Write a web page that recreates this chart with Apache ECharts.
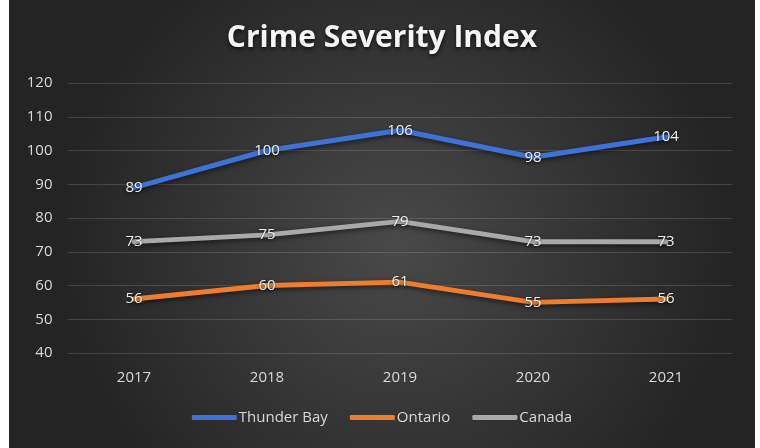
<!DOCTYPE html>
<html>
<head>
<meta charset="utf-8">
<script src="https://cdn.jsdelivr.net/npm/echarts@6/dist/echarts.min.js"></script>
<style>
  html, body { margin: 0; padding: 0; background: #ffffff; }
  #wrap { position: relative; width: 760px; height: 448px; overflow: hidden; }
  #chart { position: absolute; left: 9px; top: 0; width: 746px; height: 448px; }
</style>
</head>
<body>
<div id="wrap"><div id="chart"></div></div>
<script>
// Crime Severity Index by year
const years = ['2017', '2018', '2019', '2020', '2021'];
const thunderBay = [89, 100, 106, 98, 104];
const ontario = [56, 60, 61, 55, 56];
const canada = [73, 75, 79, 73, 73];
const yTicks = { min: 40, max: 120, step: 10 };

const labelColor = '#d9d9d9';
const fontFamily = '"Open Sans", Lato, sans-serif';

function lineSeries(name, data, color) {
  return {
    name: name,
    type: 'line',
    data: data,
    symbol: 'circle',
    symbolSize: 1,
    itemStyle: { color: color },
    lineStyle: {
      color: color,
      width: 5,
      cap: 'round',
      shadowColor: 'rgba(0,0,0,0.55)',
      shadowBlur: 5,
      shadowOffsetY: 2
    },
    label: {
      show: true,
      position: 'inside',
      color: '#eeeeee',
      fontSize: 15,
      fontFamily: fontFamily,
      textShadowColor: 'rgba(0,0,0,0.6)',
      textShadowBlur: 3,
      textShadowOffsetY: 1
    },
    emphasis: { disabled: true },
    animation: false
  };
}

const chart = echarts.init(document.getElementById('chart'), null, { renderer: 'canvas' });
chart.setOption({
  backgroundColor: {
    type: 'radial', x: 0.52, y: 0.55, r: 0.75,
    colorStops: [
      { offset: 0, color: '#494949' },
      { offset: 1, color: '#242424' }
    ]
  },
  animation: false,
  title: {
    text: 'Crime Severity Index',
    left: 'center',
    top: 18,
    textStyle: {
      color: '#f5f5f5',
      fontSize: 30,
      fontWeight: 'bold',
      fontFamily: fontFamily,
      textShadowColor: 'rgba(0,0,0,0.7)',
      textShadowBlur: 4,
      textShadowOffsetY: 2
    }
  },
  legend: {
    bottom: 18,
    left: 'center',
    itemWidth: 45,
    itemHeight: 5,
    itemGap: 22,
    icon: 'roundRect',
    textStyle: { color: labelColor, fontSize: 15, fontFamily: fontFamily, padding: [0, 0, 0, -3] },
    data: ['Thunder Bay', 'Ontario', 'Canada']
  },
  grid: { left: 58.5, right: 22.5, top: 83, bottom: 95, containLabel: false },
  xAxis: {
    type: 'category',
    data: years,
    boundaryGap: true,
    axisLine: { show: false },
    axisTick: { show: false },
    axisLabel: { color: labelColor, fontSize: 15, fontFamily: fontFamily, margin: 17 }
  },
  yAxis: {
    type: 'value',
    min: yTicks.min,
    max: yTicks.max,
    interval: yTicks.step,
    axisLine: { show: false },
    axisTick: { show: false },
    axisLabel: { color: labelColor, fontSize: 15, fontFamily: fontFamily, margin: 15 },
    splitLine: { lineStyle: { color: 'rgba(255,255,255,0.14)', width: 1 } }
  },
  series: [
    lineSeries('Thunder Bay', thunderBay, '#3f72d6'),
    lineSeries('Ontario', ontario, '#ee7d2e'),
    lineSeries('Canada', canada, '#a9a9a9')
  ]
});
</script>
</body>
</html>
